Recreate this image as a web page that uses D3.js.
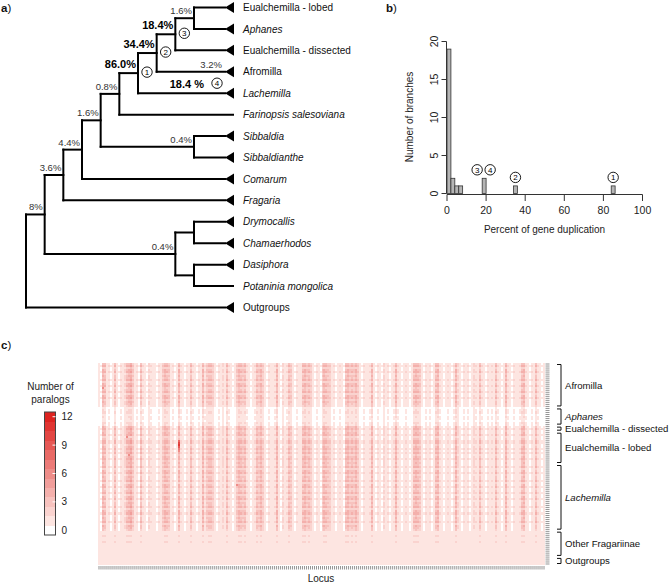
<!DOCTYPE html>
<html><head><meta charset="utf-8">
<script src="https://cdn.jsdelivr.net/npm/d3@7"></script>
<style>
body{margin:0;background:#fff;}
svg{display:block;font-family:"Liberation Sans",Arial,Helvetica,sans-serif;}
</style></head><body>
<svg id="chart" width="672" height="583"></svg>
<script>
// ================= DATA =================
// Panel a: tree (child, parent), children listed top-to-bottom
const treeEdges = [
  ["root", ""],
  ["n9", "root"], ["Outgroups", "root"],
  ["n8", "n9"], ["nDry", "n9"],
  ["n7", "n8"], ["Fragaria", "n8"],
  ["n6", "n7"], ["Comarum", "n7"],
  ["n5", "n6"], ["nSib", "n6"],
  ["node1", "n5"], ["Farinopsis salesoviana", "n5"],
  ["node2", "node1"], ["Lachemilla", "node1"],
  ["node3", "node2"], ["Afromilla", "node2"],
  ["nLA", "node3"], ["Eualchemilla - dissected", "node3"],
  ["Eualchemilla - lobed", "nLA"], ["Aphanes", "nLA"],
  ["Sibbaldia", "nSib"], ["Sibbaldianthe", "nSib"],
  ["nDC", "nDry"], ["nDP", "nDry"],
  ["Drymocallis", "nDC"], ["Chamaerhodos", "nDC"],
  ["Dasiphora", "nDP"], ["Potaninia mongolica", "nDP"]
];
const italicTips = ["Aphanes","Lachemilla","Farinopsis salesoviana","Sibbaldia","Sibbaldianthe","Comarum","Fragaria","Drymocallis","Chamaerhodos","Dasiphora","Potaninia mongolica"];
const noTriangleTips = ["Farinopsis salesoviana","Potaninia mongolica"];
const branchLabelNode = ["nLA","node3","node2","node1","Afromilla","Lachemilla","n5","nSib","n6","n7","n8","nDry","n9"];
const branchLabelText = ["1.6%","18.4%","34.4%","86.0%","3.2%","18.4 %","0.8%","0.4%","1.6%","4.4%","3.6%","0.4%","8%"];
const branchLabelBold = [false,true,true,true,false,true,false,false,false,false,false,false,false];
const circleNodes = ["node1","node2","node3","Lachemilla"];
const circleLabels = ["1","2","3","4"];

// Panel b: histogram
const histBinStart = [0, 2, 4, 6, 18, 34, 84];
const histCounts   = [19, 2, 1, 1, 2, 1, 1];
const histBinWidth = 2;
const histXTicks = [0, 20, 40, 60, 80, 100];
const histYTicks = [0, 5, 10, 15, 20];
const histAnnotLabels = ["3", "4", "2", "1"];
const histAnnotBin    = [18, 18, 34, 84];

// Panel c: heatmap
const groupNames  = ["Afromilla","Aphanes","Eualchemilla - dissected","Eualchemilla - lobed","Lachemilla","Other Fragariinae","Outgroups"];
const groupRows   = [22, 9, 3, 16, 33, 13, 4];
const groupItalic = [false, true, false, false, true, false, false];
// per-locus streak strength (224 loci)
const locusProfile =
  "21872312" + "72132478" + "96231732" + "14322132" +
  "68762312" + "83213273" + "21328367" + "75213242" +
  "73212687" + "67321237" + "68521322" + "38214237" +
  "62132278" + "67521321" + "68765231" + "23217867" +
  "68521322" + "38213214" + "23123832" + "12321278" +
  "76213231" + "27832123" + "21384213" + "23124327" +
  "32132327" + "32128321" + "32237832" + "13273212";
// per-sample weight and minimum count
const rowWeight = [
  0.4,0.5,0.3,0.45,0.55,0.35,0.45,0.4,0.5,0.3,0.45,0.55,0.35,0.4,0.5,0.3,0.45,0.55,0.35,0.45,0.4,0.35,
  0.15,0.2,0.22,0.15,0.2,0.18,0.15,0.22,0.2,
  0.45,0.5,0.4,
  0.45,0.5,0.25,0.4,0.5,0.55,0.35,0.45,0.5,0.4,0.55,0.35,0.45,0.5,0.4,0.45,
  0.4,0.5,0.3,0.45,0.55,0.35,0.45,0.4,0.5,0.3,0.45,0.55,0.35,0.4,0.5,0.3,0.45,0.55,0.35,0.45,0.4,0.5,0.3,0.45,0.55,0.35,0.45,0.4,0.5,0.3,0.45,0.4,0.35,
  0,0,0.22,0,0,0.22,0,0,0,0,0,0,0,
  0,0,0,0
];
const rowMin = [
  ...Array(22).fill(0), ...Array(9).fill(0), ...Array(3).fill(0), ...Array(16).fill(0), ...Array(33).fill(0),
  ...Array(13).fill(1), ...Array(4).fill(1)
];
// notable high-count cells [row, locus, count]
const hotCells = [[38,40,8],[39,40,10],[40,40,11],[41,40,9],[42,40,7],[43,40,6],[36,14,6],[45,15,6],[60,69,6],[12,2,6]];
const legendValues = [0,1,2,3,4,5,6,7,8,9,10,11,12];
const legendTicks = [0,3,6,9,12];

// ================= DRAW =================
const svg = d3.select("#chart");

function panelLabel(x, y, ch) {
  const t = svg.append("text").attr("x", x).attr("y", y).attr("font-size", 11.5).attr("fill", "#111");
  t.append("tspan").attr("font-weight", "bold").text(ch);
  t.append("tspan").text(")");
}
panelLabel(1, 12, "a");
panelLabel(386, 12, "b");
panelLabel(1, 349, "c");

// ---------- Panel a ----------
const root = d3.stratify().id(d => d[0]).parentId(d => d[1] || null)(treeEdges);
const leaves = root.leaves();
const yTip = d3.scalePoint().domain(leaves.map(d => d.id)).range([7.5, 307.5]);
const xHeight = d3.scaleLinear().domain([1, 10]).range([194, 26]);
const leafX = 225;
root.eachAfter(n => {
  if (!n.children) { n.py = yTip(n.id); n.px = leafX; }
  else {
    n.py = (n.children[0].py + n.children[n.children.length - 1].py) / 2;
    n.px = xHeight(n.height);
  }
});
const gT = svg.append("g");
const links = [];
root.each(n => {
  if (n.children) {
    links.push([n.px, n.children[0].py, n.px, n.children[n.children.length - 1].py]);
    n.children.forEach(c => {
      const ex = (!c.children && noTriangleTips.includes(c.id)) ? 233 : c.px;
      links.push([n.px, c.py, ex, c.py]);
    });
  }
});
gT.selectAll("line.br").data(links).join("line")
  .attr("x1", d => d[0]).attr("y1", d => d[1]).attr("x2", d => d[2]).attr("y2", d => d[3])
  .attr("stroke", "#000").attr("stroke-width", 2).attr("stroke-linecap", "square");
gT.selectAll("path.tri").data(leaves.filter(l => !noTriangleTips.includes(l.id))).join("path")
  .attr("d", d => `M${leafX},${d.py}L${leafX + 9},${d.py - 5.5}L${leafX + 9},${d.py + 5.5}Z`)
  .attr("fill", "#000");
gT.selectAll("text.tip").data(leaves).join("text")
  .attr("x", 243).attr("y", d => d.py + 3.6)
  .attr("font-size", 10).attr("fill", "#111")
  .attr("font-style", d => italicTips.includes(d.id) ? "italic" : "normal")
  .text(d => d.id);
const nodeById = new Map(root.descendants().map(n => [n.id, n]));
branchLabelNode.forEach((id, i) => {
  const n = nodeById.get(id);
  const bold = branchLabelBold[i];
  let ex;
  if (!n.children) ex = circleNodes.includes(id) ? leafX - 21 : leafX - 3;
  else ex = n.px - 2;
  gT.append("text").attr("x", ex).attr("y", n.py - (bold ? 5 : 4))
    .attr("text-anchor", "end")
    .attr("font-size", bold ? 11 : 9.5)
    .attr("font-weight", bold ? "bold" : "normal")
    .attr("fill", bold ? "#000" : "#333")
    .text(branchLabelText[i]);
});
function circ(g, cx, cy, label) {
  g.append("circle").attr("cx", cx).attr("cy", cy).attr("r", 5.2)
    .attr("fill", "#fff").attr("stroke", "#000").attr("stroke-width", 0.9);
  g.append("text").attr("x", cx).attr("y", cy + 3).attr("text-anchor", "middle")
    .attr("font-size", 8).attr("fill", "#000").text(label);
}
circleNodes.forEach((id, i) => {
  const n = nodeById.get(id);
  if (n.children) circ(gT, n.px + 9, n.py - 1, circleLabels[i]);
  else circ(gT, leafX - 8, n.py - 10, circleLabels[i]);
});

// ---------- Panel b ----------
const gH = svg.append("g");
const xH = d3.scaleLinear().domain([0, 100]).range([447, 642.5]);
const yH = d3.scaleLinear().domain([0, 20]).range([193.5, 41.5]);
gH.selectAll("rect.bar").data(histCounts).join("rect")
  .attr("x", (d, i) => xH(histBinStart[i]))
  .attr("width", (d, i) => xH(histBinStart[i] + histBinWidth) - xH(histBinStart[i]))
  .attr("y", d => yH(d)).attr("height", d => yH(0) - yH(d))
  .attr("fill", "#b5b5b5").attr("stroke", "#333").attr("stroke-width", 0.8);
gH.append("line").attr("x1", xH(0)).attr("x2", xH(100)).attr("y1", 194.5).attr("y2", 194.5).attr("stroke", "#333");
gH.selectAll("line.xt").data(histXTicks).join("line")
  .attr("x1", d => xH(d)).attr("x2", d => xH(d)).attr("y1", 194.5).attr("y2", 201)
  .attr("stroke", "#333");
gH.selectAll("text.xl").data(histXTicks).join("text")
  .attr("x", d => xH(d)).attr("y", 214).attr("text-anchor", "middle")
  .attr("font-size", 10.5).attr("fill", "#222").text(d => d);
gH.append("text").attr("x", 544.5).attr("y", 233).attr("text-anchor", "middle")
  .attr("font-size", 10).attr("fill", "#222").text("Percent of gene duplication");
gH.append("line").attr("x1", 446.5).attr("x2", 446.5).attr("y1", yH(0)).attr("y2", yH(20)).attr("stroke", "#333");
gH.selectAll("line.yt").data(histYTicks).join("line")
  .attr("x1", 441.5).attr("x2", 446.5).attr("y1", d => yH(d)).attr("y2", d => yH(d))
  .attr("stroke", "#333");
gH.selectAll("text.yl").data(histYTicks).join("text")
  .attr("transform", d => `translate(438,${yH(d)}) rotate(-90)`)
  .attr("text-anchor", "middle").attr("font-size", 10.5).attr("fill", "#222").text(d => d);
gH.append("text").attr("transform", `translate(413,117) rotate(-90)`)
  .attr("text-anchor", "middle").attr("font-size", 10).attr("fill", "#222").text("Number of branches");
histAnnotLabels.forEach((lab, i) => {
  const b = histAnnotBin[i];
  const bi = histBinStart.indexOf(b);
  let cx = xH(b + histBinWidth / 2);
  if (lab === "3") cx -= 7; else if (lab === "4") cx += 6;
  circ(gH, cx, yH(histCounts[bi]) - 8.5, lab);
});

// ---------- Panel c ----------
const gC = svg.append("g");
const loci = locusProfile.split("").map(Number);
const nRows = rowWeight.length;
const xC = d3.scaleBand().domain(d3.range(loci.length)).range([98, 545]);
const yC = d3.scaleBand().domain(d3.range(nRows)).range([363, 565]);
const col = d3.scaleLinear().domain([0, 1, 12]).range(["#ffffff", "#fde5e1", "#dd2320"]).clamp(true);
const cells = [];
const hotMap = new Map(hotCells.map(h => [h[0] + "_" + h[1], h[2]]));
for (let r = 0; r < nRows; r++) {
  for (let c = 0; c < loci.length; c++) {
    let v = Math.max(rowMin[r], Math.round(loci[c] * rowWeight[r]));
    const hk = r + "_" + c;
    if (hotMap.has(hk)) v = hotMap.get(hk);
    cells.push([r, c, v]);
  }
}
gC.selectAll("rect.cell").data(cells).join("rect")
  .attr("x", d => xC(d[1])).attr("y", d => yC(d[0]))
  .attr("width", xC.bandwidth() + 0.3).attr("height", yC.bandwidth() + 0.3)
  .attr("fill", d => col(d[2])).attr("shape-rendering", "crispEdges");
gC.selectAll("line.rt").data(d3.range(nRows)).join("line")
  .attr("x1", 545.5).attr("x2", 549.5)
  .attr("y1", d => yC(d) + yC.bandwidth() / 2).attr("y2", d => yC(d) + yC.bandwidth() / 2)
  .attr("stroke", "#666").attr("stroke-width", 0.7);
gC.selectAll("line.ct").data(d3.range(loci.length)).join("line")
  .attr("x1", d => xC(d) + xC.bandwidth() / 2).attr("x2", d => xC(d) + xC.bandwidth() / 2)
  .attr("y1", 566).attr("y2", 569.5)
  .attr("stroke", "#666").attr("stroke-width", 0.7);
gC.append("text").attr("x", 321).attr("y", 581.5).attr("text-anchor", "middle")
  .attr("font-size", 10).attr("fill", "#222").text("Locus");
let rr = 0;
groupNames.forEach((g, i) => {
  const y0 = yC(rr) + 1.5, y1 = yC(rr + groupRows[i] - 1) + yC.bandwidth() - 1.5;
  rr += groupRows[i];
  gC.append("path").attr("d", `M557,${y0}H561V${y1}H557`)
    .attr("fill", "none").attr("stroke", "#111").attr("stroke-width", 1);
  gC.append("text").attr("x", 565).attr("y", (y0 + y1) / 2 + 3.5)
    .attr("font-size", 9.6).attr("fill", "#111")
    .attr("font-style", groupItalic[i] ? "italic" : "normal").text(g);
});
const yL = d3.scaleLinear().domain([-0.5, 12.5]).range([535, 412]);
gC.selectAll("rect.leg").data(legendValues).join("rect")
  .attr("x", 44.5).attr("width", 11)
  .attr("y", d => yL(d + 0.5)).attr("height", d => yL(d - 0.5) - yL(d + 0.5) + 0.3)
  .attr("fill", d => col(d)).attr("shape-rendering", "crispEdges");
gC.append("rect").attr("x", 44.5).attr("y", yL(12.5)).attr("width", 11).attr("height", yL(-0.5) - yL(12.5))
  .attr("fill", "none").attr("stroke", "#444").attr("stroke-width", 1);
gC.selectAll("line.lt").data(legendTicks.filter(d => d > 0)).join("line")
  .attr("x1", 52.5).attr("x2", 55.5).attr("y1", d => yL(d)).attr("y2", d => yL(d))
  .attr("stroke", "#fff").attr("stroke-width", 1);
gC.selectAll("text.ll").data(legendTicks).join("text")
  .attr("x", 61.5).attr("y", d => yL(d) + 3.5)
  .attr("font-size", 10).attr("fill", "#222").text(d => d);
gC.append("text").attr("x", 50.5).attr("y", 390).attr("text-anchor", "middle")
  .attr("font-size", 10).attr("fill", "#222").text("Number of");
gC.append("text").attr("x", 50.5).attr("y", 403).attr("text-anchor", "middle")
  .attr("font-size", 10).attr("fill", "#222").text("paralogs");
</script>
</body></html>
